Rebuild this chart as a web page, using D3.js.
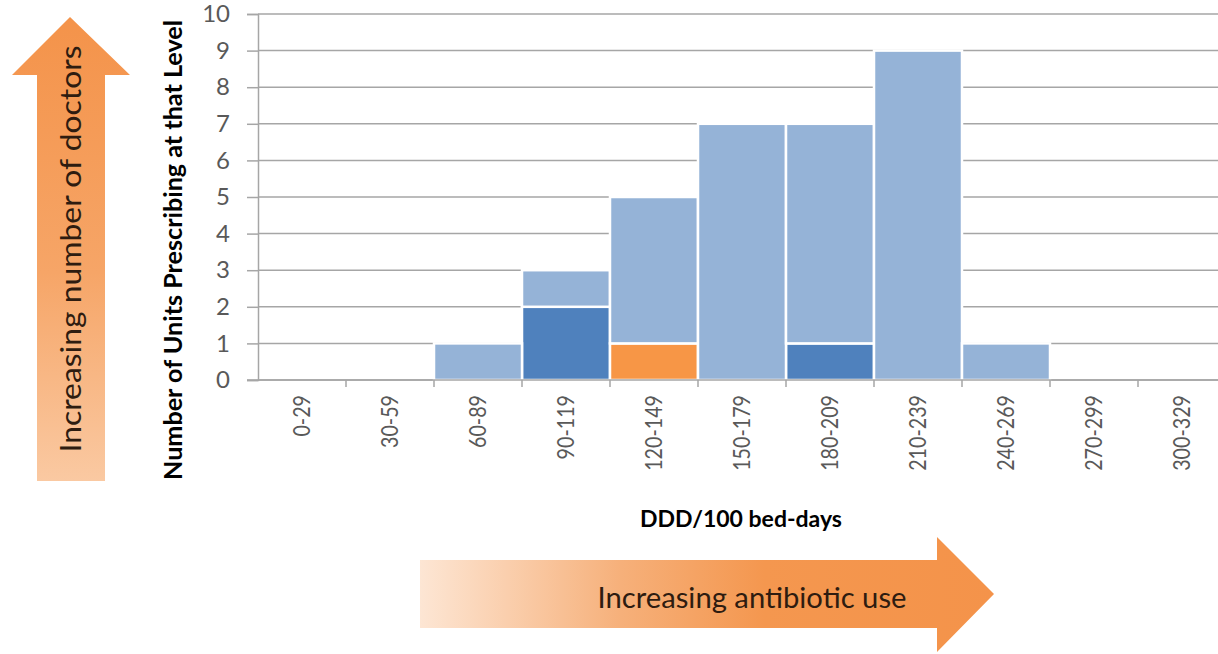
<!DOCTYPE html>
<html>
<head>
<meta charset="utf-8">
<script src="https://cdn.jsdelivr.net/npm/d3@7"></script>
<style>
  html, body { margin: 0; padding: 0; background: #fff; }
  svg { display: block; font-family: Lato, "Open Sans", "Liberation Sans", sans-serif; }
</style>
</head>
<body>
<svg id="chart" width="1218" height="654"></svg>
<script>
// Dose bands (DDD/100 bed-days)
const categories = ["0-29", "30-59", "60-89", "90-119", "120-149", "150-179", "180-209", "210-239", "240-269", "270-299", "300-329"];
// Units per band, split into three stacked groups
const darkUnits   = [0, 0, 0, 2, 0, 0, 1, 0, 0, 0, 0];
const orangeUnits = [0, 0, 0, 0, 1, 0, 0, 0, 0, 0, 0];
const lightUnits  = [0, 0, 1, 1, 4, 7, 6, 9, 1, 0, 0];
const yTicks = [0, 1, 2, 3, 4, 5, 6, 7, 8, 9, 10];

const seriesKeys = ["dark", "orange", "light"];
const colors = { dark: "#4f81bd", orange: "#f79646", light: "#95b3d7" };

const rows = categories.map((c, i) => ({ cat: c, dark: darkUnits[i], orange: orangeUnits[i], light: lightUnits[i] }));
const stacked = d3.stack().keys(seriesKeys)(rows);

const svg = d3.select("#chart");
const plot = { left: 258, right: 1226, top: 14, bottom: 380 };

const x = d3.scaleBand().domain(categories).range([plot.left, plot.right]).padding(0);
const y = d3.scaleLinear().domain([0, 10]).range([plot.bottom, plot.top]);

// Gradients for the annotation arrows
const defs = svg.append("defs");
const gv = defs.append("linearGradient").attr("id", "gradUp").attr("x1", 0).attr("y1", 1).attr("x2", 0).attr("y2", 0);
gv.append("stop").attr("offset", "0%").attr("stop-color", "#fac9a2");
gv.append("stop").attr("offset", "45%").attr("stop-color", "#f6a567");
gv.append("stop").attr("offset", "100%").attr("stop-color", "#f4934a");
const gh = defs.append("linearGradient").attr("id", "gradRight").attr("x1", 0).attr("y1", 0).attr("x2", 1).attr("y2", 0);
gh.append("stop").attr("offset", "0%").attr("stop-color", "#fde6d4");
gh.append("stop").attr("offset", "35%").attr("stop-color", "#f6b07a");
gh.append("stop").attr("offset", "60%").attr("stop-color", "#f4974f");
gh.append("stop").attr("offset", "100%").attr("stop-color", "#f4934a");

// Horizontal gridlines
svg.append("g")
  .selectAll("line")
  .data(yTicks)
  .join("line")
  .attr("x1", plot.left).attr("x2", plot.right)
  .attr("y1", d => y(d)).attr("y2", d => y(d))
  .attr("stroke", "#a6a6a6").attr("stroke-width", 1.5);

// Stacked bars
svg.append("g")
  .selectAll("g")
  .data(stacked)
  .join("g")
  .attr("fill", d => colors[d.key])
  .selectAll("rect")
  .data(d => d.filter(s => s[1] - s[0] > 0))
  .join("rect")
  .attr("x", d => x(d.data.cat))
  .attr("y", d => y(d[1]))
  .attr("width", x.bandwidth())
  .attr("height", d => y(d[0]) - y(d[1]))
  .attr("stroke", "#ffffff")
  .attr("stroke-width", 2.5);

// Y axis
const yAxis = svg.append("g")
  .attr("transform", `translate(${plot.left},0)`)
  .call(d3.axisLeft(y).tickValues(yTicks).tickSize(11).tickPadding(17).tickFormat(d3.format("d")));
yAxis.select(".domain").attr("stroke", "#a6a6a6").attr("stroke-width", 1.5);
yAxis.selectAll(".tick line").attr("stroke", "#a6a6a6").attr("stroke-width", 1.5);
yAxis.selectAll(".tick text")
  .attr("fill", "#595959")
  .style("font-size", "24px")
  .style("font-family", "Lato, 'Open Sans', sans-serif");

// X axis: boundary ticks between bands
const xAxisG = svg.append("g").attr("transform", `translate(0,${plot.bottom})`);
xAxisG.append("line")
  .attr("x1", plot.left - 11).attr("x2", plot.right)
  .attr("stroke", "#a6a6a6").attr("stroke-width", 1.5);
xAxisG.selectAll("line.bound")
  .data(categories.slice(1))
  .join("line")
  .attr("class", "bound")
  .attr("x1", d => x(d)).attr("x2", d => x(d))
  .attr("y1", 0).attr("y2", 7)
  .attr("stroke", "#a6a6a6").attr("stroke-width", 1.5);
// Category labels: tall, condensed glyphs
xAxisG.selectAll("text")
  .data(categories)
  .join("text")
  .attr("transform", d => `translate(${x(d) + x.bandwidth() / 2 + 8},15) rotate(-90)`)
  .attr("text-anchor", "end")
  .attr("fill", "#595959")
  .style("font-size", "24px")
  .text(d => d)
  .each(function () {
    const w = this.getComputedTextLength();
    d3.select(this).attr("textLength", w * 0.82).attr("lengthAdjust", "spacingAndGlyphs");
  });

// Axis titles
svg.append("text")
  .attr("transform", "translate(182,250) rotate(-90)")
  .attr("text-anchor", "middle")
  .attr("fill", "#000")
  .attr("textLength", 460)
  .attr("lengthAdjust", "spacingAndGlyphs")
  .style("font-size", "25px")
  .style("font-weight", "bold")
  .text("Number of Units Prescribing at that Level");

svg.append("text")
  .attr("x", 741).attr("y", 527)
  .attr("text-anchor", "middle")
  .attr("fill", "#000")
  .attr("textLength", 202)
  .attr("lengthAdjust", "spacingAndGlyphs")
  .style("font-size", "22px")
  .style("font-weight", "bold")
  .text("DDD/100 bed-days");

// Vertical arrow
const upArrow = [[37, 481], [37, 75], [12, 75], [70, 17], [130, 75], [105, 75], [105, 481]];
svg.append("path")
  .attr("d", d3.line()(upArrow) + "Z")
  .attr("fill", "url(#gradUp)");
svg.append("text")
  .attr("transform", "translate(81,249) rotate(-90)")
  .attr("text-anchor", "middle")
  .attr("fill", "#2e1c10")
  .attr("textLength", 407)
  .attr("lengthAdjust", "spacingAndGlyphs")
  .style("font-size", "29px")
  .text("Increasing number of doctors");

// Horizontal arrow
const rightArrow = [[420, 560], [937, 560], [937, 537], [994, 594], [937, 652], [937, 628], [420, 628]];
svg.append("path")
  .attr("d", d3.line()(rightArrow) + "Z")
  .attr("fill", "url(#gradRight)");
svg.append("text")
  .attr("x", 752).attr("y", 608)
  .attr("text-anchor", "middle")
  .attr("fill", "#2e1c10")
  .attr("textLength", 309)
  .attr("lengthAdjust", "spacingAndGlyphs")
  .style("font-size", "29px")
  .text("Increasing antibiotic use");
</script>
</body>
</html>
